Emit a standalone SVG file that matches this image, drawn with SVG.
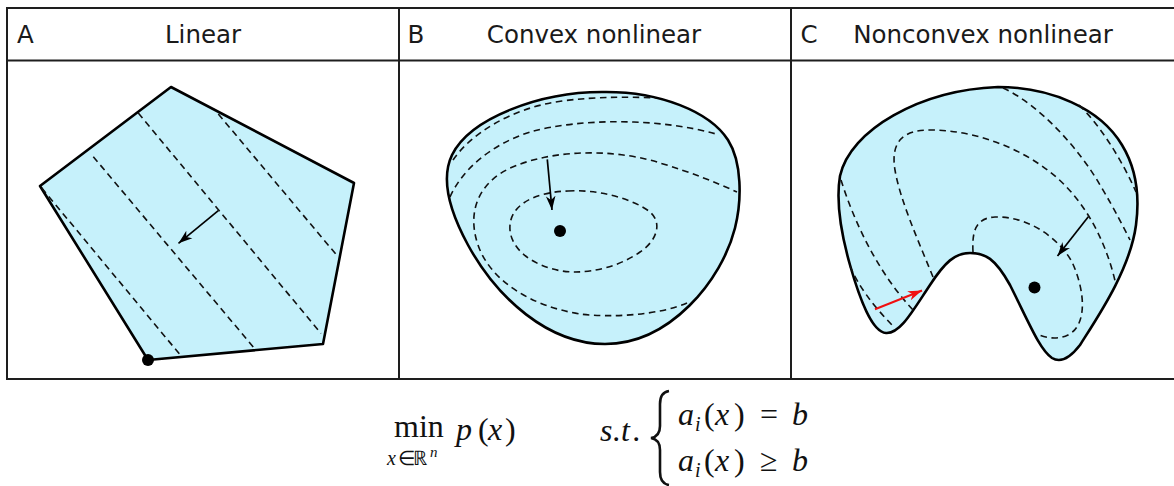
<svg xmlns="http://www.w3.org/2000/svg" width="1174" height="486" viewBox="0 0 1174 486">
  <style>
    .frame { fill: none; stroke: #1e1e1e; stroke-width: 2; }
    .hdr { font-family: "DejaVu Sans", Verdana, sans-serif; font-size: 24.5px; fill: #1a1a1a; }
    .region { fill: #c6f1fb; stroke: #000; stroke-width: 2.6; stroke-linejoin: round; }
    .level { fill: none; stroke: #111; stroke-width: 1.6; stroke-dasharray: 6.5 4.5; }
    .arrow { fill: none; stroke: #000; stroke-width: 1.7; }
    .arrow-red { fill: none; stroke: #f01010; stroke-width: 2; }
    .dot { fill: #000; }
    .math { font-family: "Liberation Serif", "Times New Roman", serif; font-size: 32px; fill: #111; }
    .it { font-style: italic; }
    .sub { font-size: 20px; }
    .sup { font-size: 15px; }
  </style>
  <defs>
    <marker id="ah" viewBox="-14 -6 15 12" markerWidth="15" markerHeight="12" refX="0" refY="0" orient="auto" markerUnits="userSpaceOnUse">
      <path d="M0,0 L-14,-4.8 L-10,0 L-14,4.8 Z" fill="#000"/>
    </marker>
    <marker id="ah-red" viewBox="-14 -6 15 12" markerWidth="15" markerHeight="12" refX="0" refY="0" orient="auto" markerUnits="userSpaceOnUse">
      <path d="M0,0 L-14,-4.8 L-10,0 L-14,4.8 Z" fill="#f01010"/>
    </marker>
  </defs>

  <rect width="1174" height="486" fill="#fff"/>

  <g id="frame">
    <rect class="frame" x="7" y="8" width="1175" height="371"/>
    <line class="frame" x1="7" y1="60.5" x2="1174" y2="60.5"/>
    <line class="frame" x1="399" y1="8" x2="399" y2="379"/>
    <line class="frame" x1="791" y1="8" x2="791" y2="379"/>
    <text class="hdr" x="17" y="43">A</text>
    <text class="hdr" x="203" y="43" text-anchor="middle">Linear</text>
    <text class="hdr" x="407.5" y="43">B</text>
    <text class="hdr" x="594" y="43" text-anchor="middle">Convex nonlinear</text>
    <text class="hdr" x="800.5" y="43">C</text>
    <text class="hdr" x="983" y="43" text-anchor="middle">Nonconvex nonlinear</text>
  </g>

  <g id="panel-A">
    <polygon class="region" points="171,87 354,183 323,344 148,360 40,186"/>
    <line class="level" x1="41.7" y1="188" x2="181.7" y2="356.7"/>
    <line class="level" x1="93.3" y1="156.7" x2="253.3" y2="347"/>
    <line class="level" x1="138.3" y1="113" x2="321" y2="333.5"/>
    <line class="level" x1="218.3" y1="114" x2="338" y2="256.7"/>
    <circle class="dot" cx="148" cy="360" r="6"/>
  </g>

  <g id="panel-B">
    <path class="region" d="M 602,92 C 660,91 710,112 728,140 C 742,162 742,200 735,228 C 722,280 670,344 605,344 C 548,344 497,298 468,245 C 450,212 440,180 452,155 C 470,118 540,92 602,92 Z"/>
    <path class="level" d="M 453,160 C 470,135 510,108 562,101 C 600,96 635,97 656,98"/>
    <path class="level" d="M 450,197 C 462,170 490,145 530,132 C 580,118 660,118 716,134"/>
    <path class="level" d="M 687,303 C 660,315 610,318 580,314 C 530,306 490,280 478,245 C 466,210 480,180 515,166 C 560,148 620,150 660,163 C 690,172 715,182 737,192"/>
    <path class="level" d="M 568,191 C 600,189 635,200 650,212 C 662,222 658,240 640,252 C 620,266 595,272 575,272 C 545,272 512,255 510,230 C 508,205 535,192 568,191 Z"/>
    <circle class="dot" cx="560" cy="231" r="6"/>
  </g>

  <g id="panel-C">
    <path class="region" d="M 998,87 C 1050,87 1100,108 1122,145 C 1136,168 1140,195 1136,225 C 1130,270 1097,318 1080,345 C 1070,358 1060,363 1052,358 C 1040,350 1030,325 1010,285 C 995,258 985,253 970,253 C 955,253 945,262 930,285 C 912,312 900,334 886,333 C 872,332 860,300 850,265 C 840,230 836,200 840,176 C 850,130 920,90 998,87 Z"/>
    <path class="level" d="M 841,180 C 855,225 880,275 913,310"/>
    <path class="level" d="M 850,266 C 858,285 872,305 895,328"/>
    <path class="level" d="M 933,277 C 918,240 900,200 895,170 C 890,140 905,130 930,130 C 975,130 1020,148 1050,172 C 1080,195 1105,235 1116,285"/>
    <path class="level" d="M 973,252 C 972,232 975,218 995,217 C 1030,216 1060,240 1072,262 C 1085,290 1088,325 1068,335 C 1058,340 1045,338 1037,334"/>
    <path class="level" d="M 1003,88 C 1040,105 1080,150 1100,185 C 1115,210 1125,230 1130,240"/>
    <path class="level" d="M 1079,105 C 1100,125 1122,160 1136,192"/>
    <circle class="dot" cx="1034.5" cy="287.5" r="6"/>
  </g>

  <g id="connectors">
    <line class="arrow" x1="218.3" y1="210.7" x2="178.5" y2="243.3" marker-end="url(#ah)"/>
    <line class="arrow" x1="547.3" y1="159.3" x2="552" y2="210" marker-end="url(#ah)"/>
    <line class="arrow" x1="1088.3" y1="216.7" x2="1057.5" y2="256" marker-end="url(#ah)"/>
    <line class="arrow-red" x1="875" y1="309.3" x2="922" y2="290.5" marker-end="url(#ah-red)"/>
  </g>

  <g id="formula" class="math">
    <text x="394" y="437">min</text>
    <text y="465"><tspan class="it sub" x="387">x</tspan><tspan class="sub" x="398">∈</tspan><tspan class="sub" x="413">ℝ</tspan><tspan class="it sup" x="430" y="457">n</tspan></text>
    <text y="440"><tspan class="it" x="456">p</tspan><tspan x="478">(</tspan><tspan class="it" x="488">x</tspan><tspan x="505">)</tspan></text>
    <text class="it" y="441"><tspan x="600">s</tspan><tspan x="613">.</tspan><tspan x="621">t</tspan><tspan x="633">.</tspan></text>
    <path d="M 669,391 C 662,392 660,397 660,404 L 660,426 C 660,433 657,437 651,438 C 657,439 660,443 660,450 L 660,472 C 660,479 662,484 669,485" fill="none" stroke="#111" stroke-width="2.6"/>
    <text y="425"><tspan class="it" x="678">a</tspan><tspan class="it sub" x="695" y="431">i</tspan><tspan x="704" y="425">(</tspan><tspan class="it" x="715">x</tspan><tspan x="734">)</tspan><tspan x="760">=</tspan><tspan class="it" x="792">b</tspan></text>
    <text y="471"><tspan class="it" x="678">a</tspan><tspan class="it sub" x="695" y="477">i</tspan><tspan x="704" y="471">(</tspan><tspan class="it" x="715">x</tspan><tspan x="734">)</tspan><tspan x="760">≥</tspan><tspan class="it" x="792">b</tspan></text>
  </g>
</svg>
